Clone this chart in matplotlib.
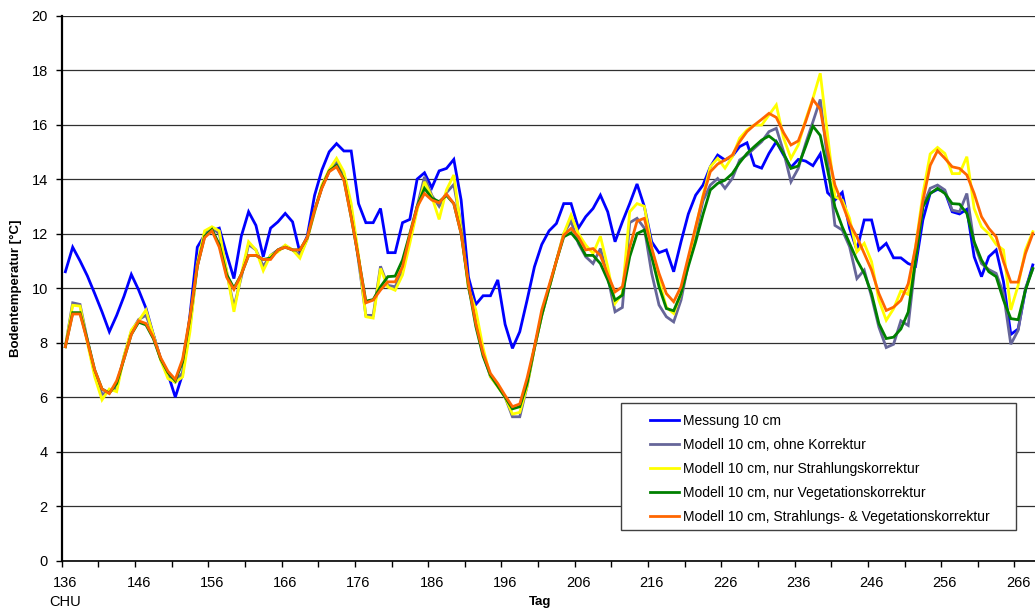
import numpy as np
import matplotlib
matplotlib.use("Agg")
import matplotlib.pyplot as plt
from matplotlib.patches import Rectangle

plt.rcParams['font.family'] = ['Liberation Sans', 'DejaVu Sans']

# days 136..268
days = np.arange(136, 269)

messung = [
    10.6, 11.5, 11.0, 10.45, 9.8, 9.13, 8.4, 9.0, 9.7, 10.5,
    9.93, 9.26, 8.3, 7.4, 6.85, 6.0, 6.85, 9.0, 11.5, 11.95,
    12.1, 12.2, 11.25, 10.35, 11.9, 12.8, 12.3, 11.15, 12.2, 12.43,
    12.74, 12.43, 11.3, 11.9, 13.4, 14.33, 15.0, 15.3, 15.03, 15.03,
    13.1, 12.4, 12.4, 12.92, 11.3, 11.3, 12.4, 12.52, 14.0, 14.23,
    13.68, 14.3, 14.39, 14.72, 13.23, 10.4, 9.4, 9.72, 9.72, 10.3,
    8.67, 7.79, 8.4, 9.56, 10.78, 11.6, 12.1, 12.37, 13.1, 13.1,
    12.2, 12.62, 12.92, 13.41, 12.8, 11.7, 12.43, 13.1, 13.82, 12.99,
    11.7, 11.3, 11.4, 10.6, 11.7, 12.72, 13.41, 13.78, 14.45, 14.88,
    14.7, 14.84, 15.19, 15.33, 14.5, 14.4, 14.94, 15.37, 14.88, 14.43,
    14.72, 14.66, 14.49, 14.92, 13.5, 13.23, 13.51, 12.19, 11.4, 12.5,
    12.5, 11.4, 11.64, 11.11, 11.11, 10.9, 10.8, 12.5, 13.48, 13.62,
    13.54, 12.8, 12.72, 12.89, 11.15, 10.42, 11.15, 11.4, 10.24, 8.3,
    8.5, 9.93, 10.85,
]

ohne = [
    7.85, 9.46, 9.4, 8.1, 6.9, 6.1, 6.2, 6.35, 7.5, 8.4,
    8.85, 9.0, 8.3, 7.4, 6.8, 6.55, 6.9, 8.6, 10.8, 12.0,
    12.2, 12.0, 10.6, 9.3, 10.4, 11.6, 11.4, 10.8, 11.2, 11.4,
    11.55, 11.4, 11.2, 11.8, 12.8, 13.7, 14.3, 14.6, 14.2, 12.9,
    11.0, 9.0, 9.0, 10.8, 10.1, 10.05, 10.6, 11.8, 13.0, 14.08,
    13.4, 13.0, 13.5, 13.8, 12.3, 10.0, 9.0, 7.6, 6.75, 6.4,
    6.0, 5.28, 5.28, 6.4, 7.8, 9.0, 10.0, 11.0, 12.0, 12.46,
    11.64, 11.15, 10.9, 11.45, 10.42, 9.13, 9.29, 12.4, 12.56, 12.2,
    10.54, 9.38, 8.95, 8.76, 9.56, 10.9, 12.0, 13.2, 13.78, 14.02,
    13.66, 14.02, 14.7, 14.88, 15.13, 15.37, 15.74, 15.86, 15.0, 13.9,
    14.39, 15.3, 16.1, 16.92, 14.7, 12.3, 12.13, 11.52, 10.35, 10.66,
    9.68, 8.57, 7.82, 7.94, 8.8, 8.63, 11.0, 13.0, 13.66, 13.78,
    13.6, 12.86, 12.8, 13.47, 11.64, 10.9, 10.68, 10.54, 9.8, 7.94,
    8.45, 10.0, 10.7,
]

strahlung = [
    7.85, 9.37, 9.34, 8.0, 6.75, 5.9, 6.3, 6.2, 7.5, 8.46,
    8.8, 9.2, 8.28, 7.36, 6.68, 6.55, 6.74, 8.4, 10.9, 12.1,
    12.25, 12.1, 10.63, 9.13, 10.5, 11.7, 11.4, 10.64, 11.2, 11.33,
    11.58, 11.4, 11.1, 11.8, 12.8, 13.78, 14.35, 14.76, 14.27, 13.1,
    11.2, 8.95, 8.9, 10.72, 10.04, 9.92, 10.48, 11.64, 12.86, 13.9,
    13.35, 12.52, 13.6, 14.15, 12.1, 10.0, 9.2, 7.8, 6.75, 6.38,
    6.0, 5.38, 5.44, 6.4, 7.8, 9.0, 10.0, 11.0, 12.0, 12.68,
    12.0, 11.58, 11.27, 11.9, 10.78, 9.44, 9.8, 12.8, 13.1, 13.0,
    11.5, 10.3, 9.3, 9.07, 9.8, 11.0, 12.2, 13.4, 14.45, 14.76,
    14.4, 14.82, 15.5, 15.8, 15.98, 15.98, 16.35, 16.72, 15.5, 14.76,
    15.25, 16.17, 16.96, 17.88, 15.6, 13.35, 13.23, 12.56, 11.33, 11.64,
    10.97, 9.56, 8.82, 9.24, 9.9, 9.77, 11.5, 13.45, 14.92, 15.16,
    14.94, 14.2, 14.2, 14.82, 12.92, 12.25, 12.0, 11.6, 11.4, 9.2,
    10.1, 11.4, 12.07,
]

vegetation = [
    7.85, 9.1, 9.1, 8.1, 7.0, 6.3, 6.15, 6.5, 7.4, 8.3,
    8.75, 8.65, 8.15, 7.4, 6.9, 6.6, 7.3, 8.9, 10.8, 11.9,
    12.15, 11.6, 10.5, 10.0, 10.5, 11.2, 11.2, 11.05, 11.1, 11.4,
    11.5, 11.4, 11.4, 11.85, 12.85, 13.7, 14.3, 14.5, 14.0, 12.6,
    11.1, 9.52, 9.58, 10.05, 10.42, 10.44, 11.03, 12.0, 13.0, 13.66,
    13.3, 13.17, 13.4, 13.1, 12.0, 10.1, 8.6, 7.5, 6.8, 6.4,
    6.0, 5.57, 5.65, 6.5, 7.8, 9.0, 10.0, 11.0, 11.88, 12.03,
    11.7, 11.2, 11.2, 10.9, 10.3, 9.56, 9.74, 11.15, 12.0, 12.13,
    11.15, 10.05, 9.25, 9.17, 9.8, 10.8, 11.7, 12.7, 13.6, 13.84,
    13.96, 14.2, 14.6, 14.94, 15.19, 15.43, 15.58, 15.37, 14.94, 14.39,
    14.48, 15.19, 15.94, 15.6, 14.33, 12.98, 12.25, 11.64, 11.03, 10.54,
    9.8, 8.7, 8.15, 8.2, 8.5, 9.12, 11.03, 12.98, 13.47, 13.66,
    13.47, 13.1, 13.08, 12.74, 11.7, 11.03, 10.6, 10.42, 9.56, 8.88,
    8.84, 9.93, 10.72,
]

beide = [
    7.85, 9.05, 9.05, 8.05, 7.0, 6.3, 6.13, 6.6, 7.4, 8.3,
    8.8, 8.7, 8.2, 7.45, 6.95, 6.65, 7.4, 8.95, 10.8, 11.85,
    12.1, 11.5, 10.4, 9.95, 10.5, 11.2, 11.2, 11.05, 11.05, 11.4,
    11.5, 11.4, 11.4, 11.86, 12.86, 13.66, 14.27, 14.45, 13.96, 12.6,
    11.1, 9.46, 9.56, 9.93, 10.23, 10.23, 10.78, 11.95, 12.98, 13.47,
    13.23, 13.13, 13.45, 13.1, 12.0, 10.17, 8.7, 7.6, 6.87, 6.5,
    6.06, 5.65, 5.75, 6.7, 7.85, 9.2, 10.1, 11.0, 11.94, 12.19,
    11.88, 11.4, 11.45, 11.2, 10.5, 9.86, 10.05, 11.5, 12.46, 12.56,
    11.46, 10.54, 9.8, 9.5, 10.05, 11.15, 12.25, 13.35, 14.27, 14.55,
    14.7, 14.88, 15.37, 15.74, 15.98, 16.19, 16.41, 16.26, 15.7, 15.25,
    15.4, 16.1, 16.92, 16.56, 15.06, 13.78, 13.1, 12.37, 11.88, 11.27,
    10.66, 9.8, 9.18, 9.3, 9.55, 10.16, 11.5, 13.2, 14.5, 15.04,
    14.76, 14.45, 14.39, 14.15, 13.47, 12.62, 12.19, 11.88, 10.97, 10.22,
    10.22, 11.27, 12.0,
]

labels = [
    "Messung 10 cm",
    "Modell 10 cm, ohne Korrektur",
    "Modell 10 cm, nur Strahlungskorrektur",
    "Modell 10 cm, nur Vegetationskorrektur",
    "Modell 10 cm, Strahlungs- & Vegetationskorrektur",
]
colors = ["#0000ff", "#666699", "#ffff00", "#008000", "#ff6600"]
series = [messung, ohne, strahlung, vegetation, beide]

fig = plt.figure(figsize=(10.35, 6.1), dpi=100)
ax = fig.add_axes([61.7 / 1035, 1 - 560.7 / 610, (1035 - 61.7) / 1035, (560.7 - 15.5) / 610])

for s, c, lab in zip(series, colors, labels):
    ax.plot(days, s, color=c, lw=2.0, label=lab, solid_joinstyle='miter')

ax.set_xlim(135.5, 268.3)
ax.set_ylim(0, 20)
ax.set_yticks(np.arange(0, 21, 2))
ax.yaxis.grid(True, color='#303030', lw=0.9)
ax.set_axisbelow(True)

ax.set_xticks(np.arange(136, 269, 10))
ax.set_xticks(np.arange(135.5, 269, 5), minor=True)
ax.tick_params(axis='x', which='major', length=0, pad=11, labelsize=10.5)
ax.tick_params(axis='x', which='minor', length=4, width=1, direction='out')
ax.tick_params(axis='y', length=4, width=1, pad=6, labelsize=10.5)

for side in ['top', 'right']:
    ax.spines[side].set_visible(False)
ax.spines['left'].set_linewidth(1.6)
ax.spines['bottom'].set_linewidth(1.2)

fig.text(16 / 1035, 1 - 288 / 610, "Bodentemperatur [°C]", rotation=90,
         ha='center', va='center', fontsize=9.5, fontweight='bold')
fig.text(540 / 1035, 1 - 602 / 610, "Tag", ha='center', va='center',
         fontsize=9.5, fontweight='bold')
fig.text(65.5 / 1035, 1 - 602 / 610, "CHU", ha='center', va='center', fontsize=10.5)

# legend frame
ax.add_patch(Rectangle((620.7 / 1035, 1 - 530 / 610), (1016 - 620.7) / 1035, (530 - 403.3) / 610,
                       transform=fig.transFigure, facecolor='white', edgecolor='#404040',
                       lw=1.0, zorder=4, clip_on=False))
leg = ax.legend(loc='upper left', bbox_to_anchor=(643 / 1035, 1 - 407 / 610),
                bbox_transform=fig.transFigure, frameon=False, fontsize=10,
                handlelength=2.1, handletextpad=0.25, labelspacing=0.72, borderpad=0)
leg.set_zorder(5)

fig.savefig("out.png", dpi=100)
